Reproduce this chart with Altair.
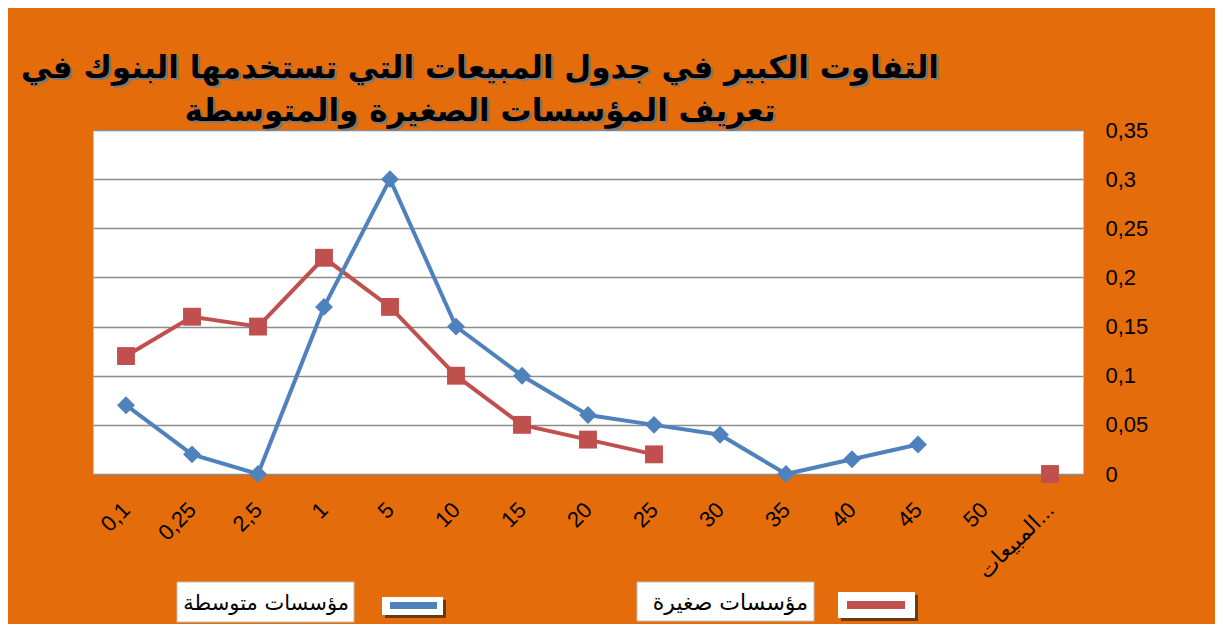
import altair as alt
import pandas as pd

categories = ["0,1", "0,25", "2,5", "1", "5", "10", "15", "20", "25", "30",
              "35", "40", "45", "50", "المبيعات..."]
medium = [0.07, 0.02, 0.0, 0.17, 0.30, 0.15, 0.10, 0.06, 0.05, 0.04,
          0.0, 0.015, 0.03, None, None]
small = [0.12, 0.16, 0.15, 0.22, 0.17, 0.10, 0.05, 0.035, 0.02, None,
         None, None, None, None, 0.0]
y_ticks = [0, 0.05, 0.1, 0.15, 0.2, 0.25, 0.3, 0.35]
title_lines = ["التفاوت الكبير في جدول المبيعات التي تستخدمها البنوك في",
               "تعريف المؤسسات الصغيرة والمتوسطة"]
legend_labels = ["مؤسسات متوسطة", "مؤسسات صغيرة"]

BLUE = "#4F81BD"
RED = "#C0504D"
ORANGE = "#E46C0A"
LABEL_FONT = "Liberation Sans"
AR_FONT = "DejaVu Sans"

df = pd.DataFrame({"category": categories, "medium": medium, "small": small})

x_enc = alt.X(
    "category:N", sort=categories,
    scale=alt.Scale(type="point", padding=0.5),
    axis=alt.Axis(title=None, labelAngle=315, labelAlign="right",
                  labelBaseline="middle", labelPadding=32, ticks=False,
                  domain=False, grid=False, labelFontSize=22,
                  labelColor="black", labelFont=LABEL_FONT, labelOverlap=False),
)

def y_enc(field):
    return alt.Y(
        f"{field}:Q",
        scale=alt.Scale(domain=[0, 0.35], nice=False),
        axis=alt.Axis(orient="right", values=y_ticks, title=None,
                      labelExpr="replace(format(datum.value, '.2~f'), '.', ',')",
                      domain=False, ticks=False, gridColor="#8C8C8C",
                      gridWidth=1.5, labelPadding=22, labelFontSize=22,
                      labelColor="black", labelFont=LABEL_FONT),
    )

base = alt.Chart(df)
red_line = base.mark_line(color=RED, strokeWidth=4,
                          invalid="break-paths-show-domains").encode(x=x_enc, y=y_enc("small"))
red_pts = base.mark_point(shape="square", filled=True, size=320, color=RED,
                          opacity=1).encode(x=x_enc, y=y_enc("small"))
blue_line = base.mark_line(color=BLUE, strokeWidth=4,
                           invalid="break-paths-show-domains").encode(x=x_enc, y=y_enc("medium"))
blue_pts = base.mark_point(shape="diamond", filled=True, size=320, color=BLUE,
                           opacity=1).encode(x=x_enc, y=y_enc("medium"))

def text_layer(txt, xv, yv, size, color, align="center", bold=False):
    d = pd.DataFrame({"t": [txt]})
    kw = dict(align=align, baseline="middle", fontSize=size, font=AR_FONT,
              color=color)
    if bold:
        kw["fontWeight"] = "bold"
    return alt.Chart(d).mark_text(**kw).encode(
        x=alt.value(xv), y=alt.value(yv), text="t:N")

def rect_layer(x1, x2, y1, y2, fill, stroke=None):
    d = pd.DataFrame({"k": [0]})
    kw = dict(fill=fill)
    if stroke:
        kw["stroke"] = stroke
        kw["strokeWidth"] = 1
    return alt.Chart(d).mark_rect(**kw).encode(
        x=alt.value(x1), x2=alt.value(x2), y=alt.value(y1), y2=alt.value(y2))

title_layers = []
for i, line in enumerate(title_lines):
    yv = -61 + i * 43
    title_layers.append(text_layer(line, 389, yv + 2, 31, "#7A7A7A", bold=True))
    title_layers.append(text_layer(line, 387, yv, 31, "black", bold=True))

legend_layers = [
    rect_layer(84, 261, 452, 492, "white", "#BFBFBF"),
    text_layer(legend_labels[0], 256, 474, 21, "black", align="right"),
    rect_layer(292, 353, 470, 488, "#6A3A10"),
    rect_layer(289, 350, 467, 485, "white"),
    rect_layer(297, 344, 472, 479, BLUE),
    rect_layer(544, 721, 452, 491, "white", "#BFBFBF"),
    text_layer(legend_labels[1], 715, 473, 22, "black", align="right"),
    rect_layer(748, 825, 465, 491, "#6A3A10"),
    rect_layer(745, 822, 462, 488, "white"),
    rect_layer(754, 812, 471, 479, RED),
]

chart = alt.layer(
    red_line, red_pts, blue_line, blue_pts, *title_layers, *legend_layers
).properties(
    width=990, height=344,
    autosize=alt.AutoSizeParams(type="none"),
    padding={"left": 85, "top": 122, "right": 132, "bottom": 150},
    background=ORANGE,
).configure_view(fill="white", stroke="transparent")

chart.save("out.html", embed_options={"renderer": "svg", "actions": False})
